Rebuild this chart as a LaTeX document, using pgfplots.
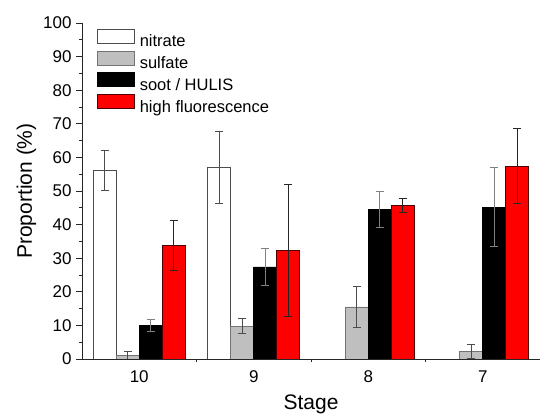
\documentclass[border=0pt]{standalone}
\usepackage{pgfplots}
\pgfplotsset{compat=1.18}
\usepackage{fontspec}
\setmainfont{Liberation Sans}
\begin{document}
\begin{tikzpicture}
\begin{axis}[
  width=458pt, height=336pt, scale only axis,
  xmin=-0.5, xmax=3.5, ymin=0, ymax=100,
  axis x line*=bottom, axis y line*=left,
  axis line style={line width=0.8pt, black!85},
  ybar=0pt, bar width=23pt,
  xtick={0,1,2,3}, xticklabels={10,9,8,7},
  minor xtick={0.5,1.5,2.5},
  ytick={0,10,...,100}, minor ytick={5,15,...,95},
  tick align=outside,
  major tick length=6pt, minor tick length=3pt,
  major x tick style={draw=none},
  tick style={line width=0.8pt, black!85},
  /pgf/number format/assume math mode=true,
  tick label style={font=\fontsize{17}{17}\selectfont},
  xticklabel style={yshift=-2pt},
  yticklabel style={xshift=-1pt},
  xlabel={Stage}, ylabel={Proportion (\%)},
  label style={font=\fontsize{21}{21}\selectfont},
  xlabel style={yshift=-5pt},
  ylabel style={yshift=0pt},
  legend cell align=left,
  legend style={draw=none, fill=none, at={(15pt,331pt)}, anchor=north west,
    legend columns=1, inner sep=0pt, outer sep=0pt,
    font=\fontsize{16.5}{16.5}\selectfont, row sep=0pt,
    nodes={inner sep=0pt, outer sep=0pt, text height=12pt, text depth=4pt},
    /tikz/every odd column/.append style={column sep=5pt}},
  legend image code/.code={\draw[#1, line width=0.8pt] (0pt,-0.5pt) rectangle (37pt,13.5pt);},
  error bars/y dir=both, error bars/y explicit,
]
\addplot[draw=black!70, fill=white, line width=0.8pt,
  error bars/error bar style={black!70, line width=1pt},
  error bars/error mark options={black!70, rotate=90, mark size=4pt, line width=1pt}]
  coordinates {(0,56) +- (0,6) (1,57) +- (0,10.8)};
\addplot[draw=black!55, fill=black!25, line width=0.8pt,
  error bars/error bar style={black!70, line width=1pt},
  error bars/error mark options={black!70, rotate=90, mark size=4pt, line width=1pt}]
  coordinates {(0,1) +- (0,1.2) (1,9.8) +- (0,2.3) (2,15.5) +- (0,6) (3,2.2) +- (0,2.1)};
\addplot[draw=black, fill=black, line width=0.8pt,
  error bars/error bar style={black!50, line width=1pt},
  error bars/error mark options={black!50, rotate=90, mark size=4pt, line width=1pt}]
  coordinates {(0,10) +- (0,1.8) (1,27.4) +- (0,5.4) (2,44.5) +- (0,5.4) (3,45.2) +- (0,11.7)};
\addplot[draw=black!70!red, fill=red, line width=0.8pt,
  error bars/error bar style={black!85, line width=1pt},
  error bars/error mark options={black!85, rotate=90, mark size=4pt, line width=1pt}]
  coordinates {(0,33.7) +- (0,7.5) (1,32.3) +- (0,19.7) (2,45.7) +- (0,2.2) (3,57.4) +- (0,11.1)};
\legend{nitrate, sulfate, soot / HULIS, high fluorescence}
\end{axis}
\pgfresetboundingbox
\path (-82pt,-58pt) rectangle (459pt,359pt);
\end{tikzpicture}
\end{document}
